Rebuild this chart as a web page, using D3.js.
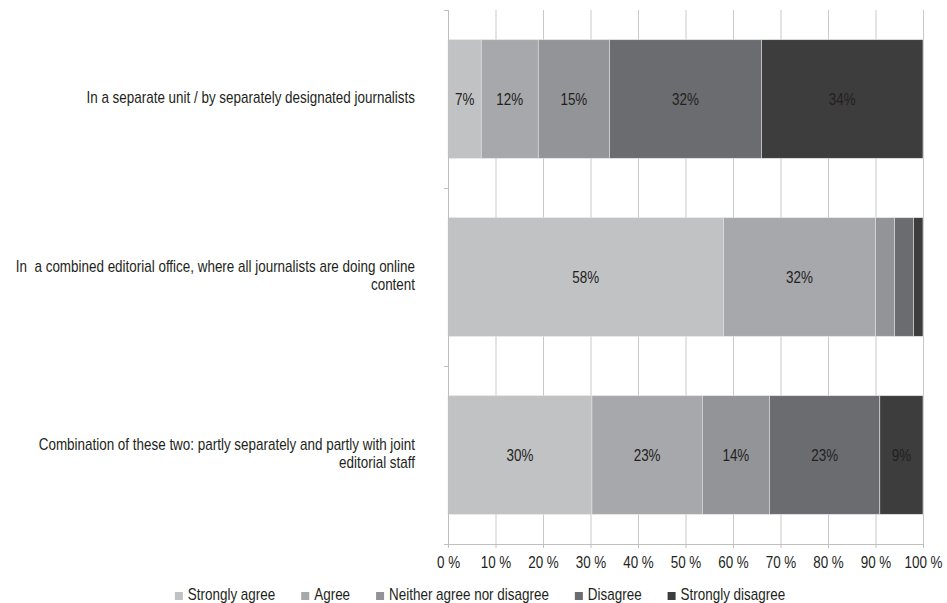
<!DOCTYPE html>
<html>
<head>
<meta charset="utf-8">
<script src="https://cdn.jsdelivr.net/npm/d3@7"></script>
<style>
  body { margin: 0; background: #fff; }
  text { font-family: "Liberation Sans Narrow", "Arial Narrow", sans-serif; fill: #231f20; }
</style>
</head>
<body>
<svg id="chart" width="947" height="603"></svg>
<script>
// Survey answers: how online content is produced in the newsroom
const categories = [
  "In a separate unit / by separately designated journalists",
  "In  a combined editorial office, where all journalists are doing online\ncontent",
  "Combination of these two: partly separately and partly with joint\neditorial staff"
];
const seriesNames = ["Strongly agree", "Agree", "Neither agree nor disagree", "Disagree", "Strongly disagree"];
const stronglyAgree    = [7, 58, 30];
const agree            = [12, 32, 23];
const neither          = [15, 4, 14];
const disagree         = [32, 4, 23];
const stronglyDisagree = [34, 2, 9];
const tickValues = [0, 10, 20, 30, 40, 50, 60, 70, 80, 90, 100];

const palette = ["#c1c2c4", "#a7a8ab", "#939497", "#6b6c70", "#3d3d3e"];
const fontSize = 16;
const squeeze = 0.84; // horizontal condensing of the text face

const svg = d3.select("#chart");
const margin = { left: 448, right: 24, top: 10, bottom: 59 };
const W = 947, H = 603;

// rows for the stack
const seriesValues = [stronglyAgree, agree, neither, disagree, stronglyDisagree];
const rows = categories.map((c, i) => {
  const r = { category: c };
  seriesNames.forEach((s, k) => r[s] = seriesValues[k][i]);
  return r;
});
const stacked = d3.stack().keys(seriesNames).offset(d3.stackOffsetExpand)(rows);

const x = d3.scaleLinear().domain([0, 100]).range([margin.left, W - margin.right]);
const y = d3.scaleBand().domain(categories).range([margin.top, H - margin.bottom])
  .paddingInner(0.334).paddingOuter(0.167);
const yEdge = d3.scaleLinear().domain([0, categories.length]).range([margin.top, H - margin.bottom]);

// condensed text helper
function condensed(sel, anchor) {
  sel.attr("text-anchor", anchor).style("font-size", fontSize + "px");
}

// vertical gridlines
svg.append("g")
  .attr("transform", `translate(0,${H - margin.bottom})`)
  .call(d3.axisBottom(x).tickValues(tickValues).tickSize(-(H - margin.bottom - margin.top)).tickFormat(""))
  .call(g => g.select(".domain").remove())
  .call(g => g.selectAll("line").attr("stroke", "#c9c9c9"));

// bars
const layer = svg.append("g").selectAll("g").data(stacked).join("g")
  .attr("fill", (d, i) => palette[i]);
layer.selectAll("rect").data(d => d).join("rect")
  .attr("x", d => x(d[0] * 100))
  .attr("width", d => x(d[1] * 100) - x(d[0] * 100))
  .attr("y", d => y(d.data.category))
  .attr("height", y.bandwidth())
  .attr("stroke", "#e4e4e6")
  .attr("stroke-width", 0.6);

// value labels (small slivers left unlabelled)
stacked.forEach((s) => {
  svg.append("g").selectAll("text").data(s.filter(d => d.data[s.key] >= 5)).join("text")
    .attr("transform", d => `translate(${x((d[0] + d[1]) * 50)},${y(d.data.category) + y.bandwidth() / 2 + 6}) scale(${squeeze},1)`)
    .call(condensed, "middle")
    .attr("fill", "#262626")
    .text(d => d.data[s.key] + "%");
});

// bottom axis
const xAxis = svg.append("g")
  .attr("transform", `translate(0,${H - margin.bottom})`)
  .call(d3.axisBottom(x).tickValues(tickValues).tickSizeInner(4).tickSizeOuter(0).tickFormat(d => d + " %"));
xAxis.select(".domain").attr("stroke", "#bfbfbf");
xAxis.selectAll(".tick line").attr("stroke", "#bfbfbf");
xAxis.selectAll(".tick text")
  .attr("y", 0).attr("dy", null)
  .attr("transform", `translate(0,24) scale(${squeeze},1)`)
  .call(condensed, "middle")
  .attr("fill", "#231f20");

// left axis with ticks between categories
const yAxis = svg.append("g")
  .attr("transform", `translate(${margin.left},0)`)
  .call(d3.axisLeft(yEdge).tickValues(d3.range(categories.length + 1)).tickSize(4).tickFormat(""));
yAxis.select(".domain").attr("stroke", "#bfbfbf");
yAxis.selectAll("line").attr("stroke", "#bfbfbf");

// category labels, right aligned and wrapped on explicit breaks
const lineH = 17.5;
svg.append("g").selectAll("g").data(categories).join("g")
  .each(function (c) {
    const lines = c.split("\n");
    const cy = y(c) + y.bandwidth() / 2;
    const first = cy + 4 - (lines.length - 1) * lineH / 2;
    d3.select(this).selectAll("text").data(lines).join("text")
      .attr("transform", (l, i) => `translate(415,${first + i * lineH}) scale(${squeeze},1)`)
      .call(condensed, "end")
      .attr("xml:space", "preserve")
      .style("white-space", "pre")
      .text(l => l);
  });

// legend, centred under the chart
const legend = svg.append("g");
const items = legend.selectAll("g").data(seriesNames).join("g");
items.append("rect").attr("width", 8).attr("height", 8).attr("y", -8)
  .attr("fill", (d, i) => palette[i]);
items.append("text")
  .attr("transform", `translate(13,0) scale(${squeeze},1)`)
  .call(condensed, "start")
  .text(d => d);
let cursor = 0;
items.each(function () {
  const w = 13 + this.querySelector("text").getComputedTextLength() * squeeze;
  d3.select(this).attr("transform", `translate(${cursor},0)`);
  cursor += w + 26;
});
const legendW = cursor - 26;
legend.attr("transform", `translate(${480 - legendW / 2},600)`);
</script>
</body>
</html>
